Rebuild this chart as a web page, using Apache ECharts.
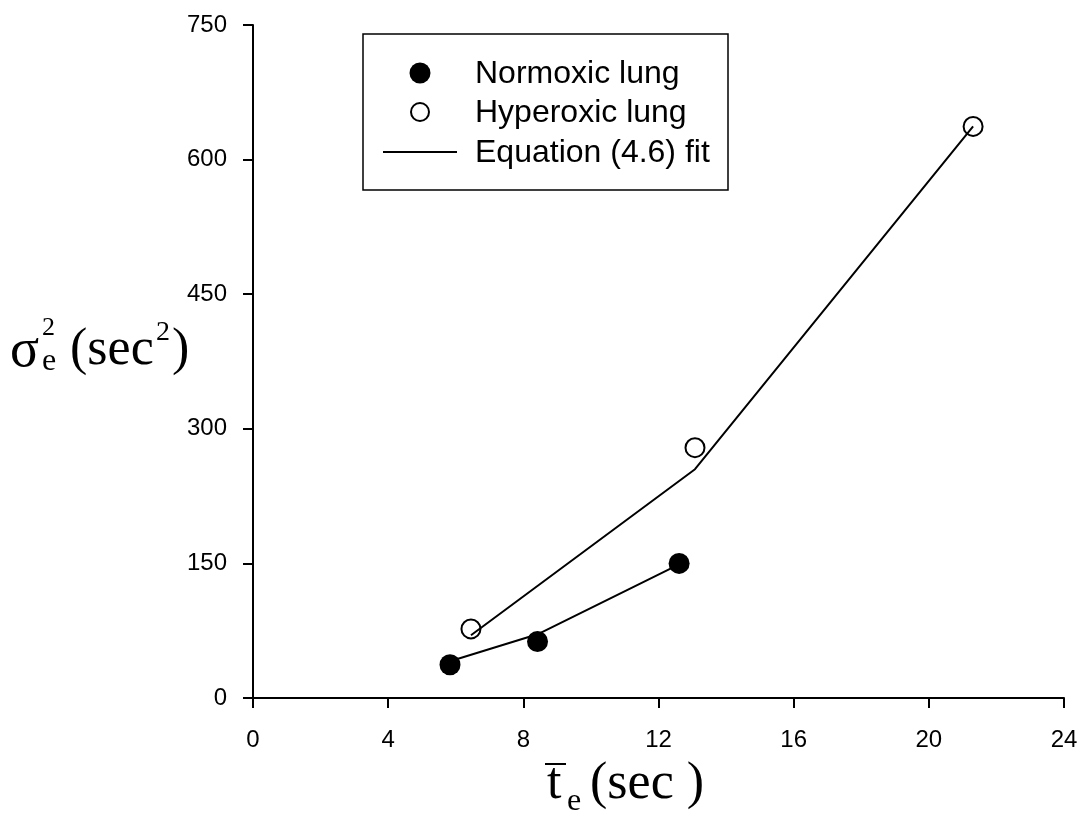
<!DOCTYPE html>
<html><head><meta charset="utf-8">
<script src="https://cdn.jsdelivr.net/npm/echarts@6/dist/echarts.min.js"></script>
<style>html,body{margin:0;padding:0;background:#fff}#c{width:1083px;height:830px}</style>
</head><body><div id="c"></div>
<script>
// ---- data ----
const xTicks = [0, 4, 8, 12, 16, 20, 24];
const yTicks = [0, 150, 300, 450, 600, 750];
const normoxicX = [5.83, 8.42, 12.61];
const normoxicY = [37, 63, 150];
const hyperoxicX = [6.45, 13.08, 21.31];
const hyperoxicY = [77, 279, 637];
const normoxicFitY = [41, 71, 149];
const hyperoxicFitY = [70, 255, 637];
const legendNames = ['Normoxic lung', 'Hyperoxic lung', 'Equation (4.6) fit'];

const pairs = (xs, ys) => xs.map((x, i) => [x, ys[i]]);
const chart = echarts.init(document.getElementById('c'), null, {renderer: 'canvas'});
const sans = 'Liberation Sans, Arial, sans-serif';
const serif = 'Liberation Serif, Times New Roman, serif';

const axisCommon = {
  axisLine: {onZero: false, lineStyle: {color: '#000', width: 2}},
  axisTick: {show: true, inside: false, length: 10, lineStyle: {color: '#000', width: 2}},
  splitLine: {show: false},
  axisLabel: {color: '#000', fontFamily: sans, fontSize: 24}
};

chart.setOption({
  animation: false,
  backgroundColor: '#fff',
  grid: {left: 253, right: 19, top: 25, bottom: 132, containLabel: false},
  xAxis: Object.assign({}, axisCommon, {
    type: 'value', min: xTicks[0], max: xTicks[xTicks.length - 1], interval: 4,
    axisLabel: Object.assign({}, axisCommon.axisLabel, {margin: 30})
  }),
  yAxis: Object.assign({}, axisCommon, {
    type: 'value', min: yTicks[0], max: yTicks[yTicks.length - 1], interval: 150,
    axisLabel: Object.assign({}, axisCommon.axisLabel, {margin: 26})
  }),
  series: [
    {name: legendNames[2], type: 'line', data: pairs(normoxicX, normoxicFitY), symbol: 'none',
     lineStyle: {color: '#000', width: 2}, z: 1},
    {name: legendNames[2], type: 'line', data: pairs(hyperoxicX, hyperoxicFitY), symbol: 'none',
     lineStyle: {color: '#000', width: 2}, z: 1},
    {name: legendNames[0], type: 'scatter', data: pairs(normoxicX, normoxicY), symbol: 'circle',
     symbolSize: 21, itemStyle: {color: '#000', opacity: 1}, z: 3},
    {name: legendNames[1], type: 'scatter', data: pairs(hyperoxicX, hyperoxicY), symbol: 'circle',
     symbolSize: 19, itemStyle: {color: 'rgba(0,0,0,0)', borderColor: '#000', borderWidth: 2, opacity: 1}, z: 3}
  ],
  graphic: [
    // legend box
    {type: 'rect', shape: {x: 363, y: 34, width: 365, height: 156},
     style: {fill: '#fff', stroke: '#000', lineWidth: 1.5}, z: 10},
    {type: 'circle', shape: {cx: 420, cy: 73, r: 10.5}, style: {fill: '#000'}, z: 11},
    {type: 'circle', shape: {cx: 420, cy: 112, r: 9}, style: {fill: '#fff', stroke: '#000', lineWidth: 2}, z: 11},
    {type: 'line', shape: {x1: 383, y1: 152, x2: 457, y2: 152}, style: {stroke: '#000', lineWidth: 2}, z: 11},
    {type: 'text', x: 475, y: 74, style: {text: legendNames[0], font: '32px ' + sans, fill: '#000', verticalAlign: 'middle'}, z: 11},
    {type: 'text', x: 475, y: 113, style: {text: legendNames[1], font: '32px ' + sans, fill: '#000', verticalAlign: 'middle'}, z: 11},
    {type: 'text', x: 475, y: 153, style: {text: legendNames[2], font: '32px ' + sans, fill: '#000', verticalAlign: 'middle'}, z: 11},
    // y axis title: sigma_e^2 (sec^2)
    {type: 'text', x: 10, y: 352, style: {text: 'σ', font: '54px ' + serif, fill: '#000', verticalAlign: 'middle'}},
    {type: 'text', x: 42, y: 328, style: {text: '2', font: '26px ' + serif, fill: '#000', verticalAlign: 'middle'}},
    {type: 'text', x: 42, y: 362, style: {text: 'e', font: '32px ' + serif, fill: '#000', verticalAlign: 'middle'}},
    {type: 'text', x: 70, y: 350, style: {text: '(sec', font: '52px ' + serif, fill: '#000', verticalAlign: 'middle'}},
    {type: 'text', x: 156, y: 333, style: {text: '2', font: '28px ' + serif, fill: '#000', verticalAlign: 'middle'}},
    {type: 'text', x: 172, y: 350, style: {text: ')', font: '52px ' + serif, fill: '#000', verticalAlign: 'middle'}},
    // x axis title: t-bar_e (sec )
    {type: 'line', shape: {x1: 545, y1: 764, x2: 566, y2: 764}, style: {stroke: '#000', lineWidth: 2}},
    {type: 'text', x: 547, y: 784, style: {text: 't', font: '52px ' + serif, fill: '#000', verticalAlign: 'middle'}},
    {type: 'text', x: 567, y: 802, style: {text: 'e', font: '32px ' + serif, fill: '#000', verticalAlign: 'middle'}},
    {type: 'text', x: 590, y: 784, style: {text: '(sec )', font: '52px ' + serif, fill: '#000', verticalAlign: 'middle'}}
  ]
});
</script></body></html>
